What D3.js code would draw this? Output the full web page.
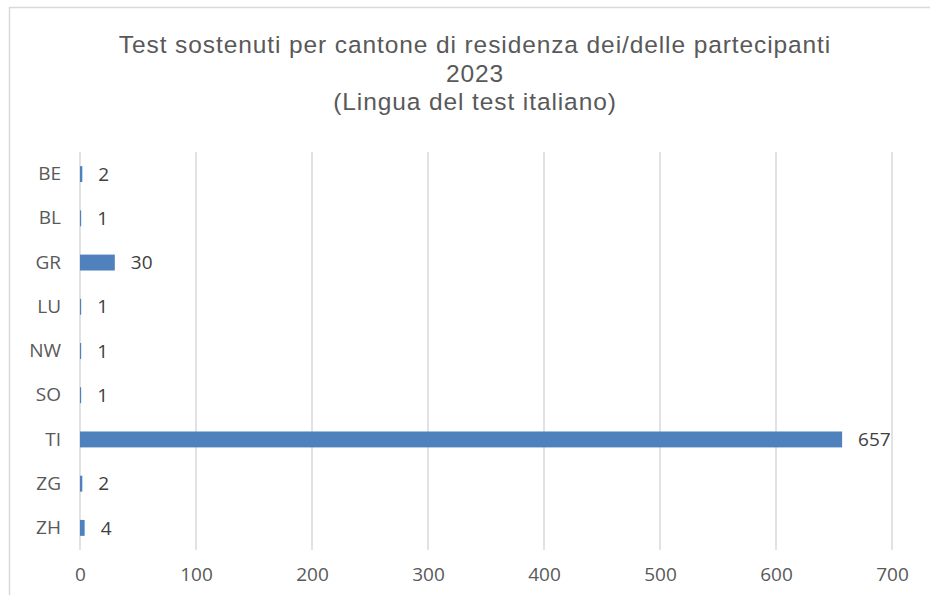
<!DOCTYPE html>
<html><head><meta charset="utf-8">
<script src="https://cdn.jsdelivr.net/npm/d3@7"></script>
<style>body{margin:0;background:#fff}svg{display:block}</style>
</head><body>
<svg id="c" width="930" height="595"></svg>
<script>
const categories = ["BE","BL","GR","LU","NW","SO","TI","ZG","ZH"];
const values = [2,1,30,1,1,1,657,2,4];
const xTicks = [0,100,200,300,400,500,600,700];
const titleLines = ["Test sostenuti per cantone di residenza dei/delle partecipanti","2023","(Lingua del test italiano)"];

const svg = d3.select("#c");
const font = "'Open Sans', sans-serif";
const titleFont = "'Liberation Sans', Arial, sans-serif";
svg.append("rect").attr("x",9.5).attr("y",7.5).attr("width",940).attr("height",600)
  .attr("fill","#fff").attr("stroke","#d9d9d9").attr("stroke-width",1.5);

const x = d3.scaleLinear().domain([0,700]).range([80,892]);
const y = d3.scaleBand().domain(categories).range([152,550]).paddingInner(0.64).paddingOuter(0.32);

const grid = svg.append("g");
grid.selectAll("line").data(xTicks).join("line")
  .attr("x1",d=>x(d)).attr("x2",d=>x(d)).attr("y1",152).attr("y2",550)
  .attr("stroke","#d9d9d9").attr("stroke-width",1.5);

const xAxis = svg.append("g").attr("transform","translate(0,550)")
  .call(d3.axisBottom(x).tickValues(xTicks).tickSize(0).tickPadding(18));
xAxis.select(".domain").remove();
xAxis.selectAll("text").attr("font-family",font).attr("font-size",19).attr("fill","#595959");

const yAxis = svg.append("g").attr("transform","translate(80,0)")
  .call(d3.axisLeft(y).tickSize(0).tickPadding(19));
yAxis.select(".domain").remove();
yAxis.selectAll("text").attr("font-family",font).attr("font-size",19).attr("fill","#595959");

const data = categories.map((c,i)=>({c,v:values[i]}));
svg.append("g").selectAll("rect").data(data).join("rect")
  .attr("x",x(0)).attr("y",d=>y(d.c)).attr("width",d=>x(d.v)-x(0)).attr("height",y.bandwidth())
  .attr("fill","#4f81bd");

svg.append("g").selectAll("text").data(data).join("text")
  .attr("x",d=>x(d.v)+16).attr("y",d=>y(d.c)+y.bandwidth()/2).attr("dy","0.35em")
  .attr("font-family",font).attr("font-size",19).attr("fill","#404040")
  .text(d=>d.v);

svg.append("g").selectAll("text").data(titleLines).join("text")
  .attr("x",475).attr("y",(d,i)=>53+i*28.5).attr("text-anchor","middle")
  .attr("font-family",titleFont).attr("font-size",24.5).attr("letter-spacing",0.9).attr("fill","#595959")
  .text(d=>d);
</script>
</body></html>
